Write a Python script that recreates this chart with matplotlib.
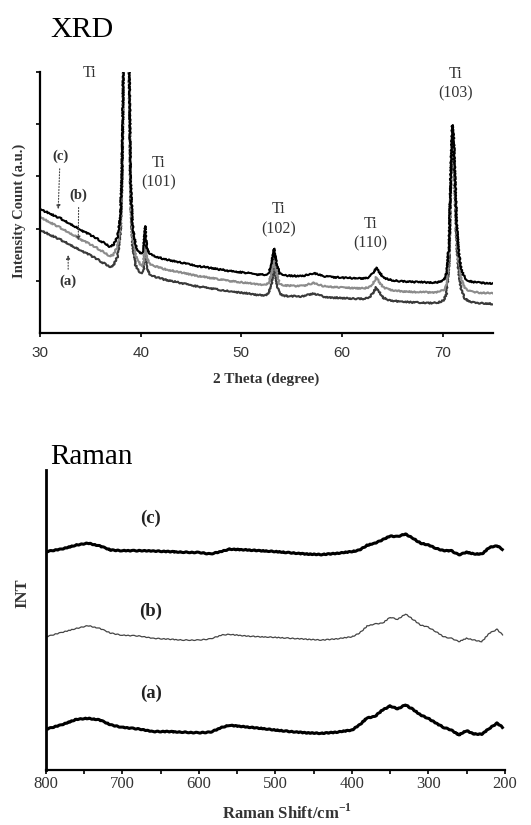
import matplotlib
matplotlib.use('Agg')
import matplotlib.pyplot as plt

plt.rcParams['mathtext.fontset'] = 'custom'
plt.rcParams['mathtext.rm'] = 'Liberation Serif'
plt.rcParams['mathtext.bf'] = 'Liberation Serif:bold'

# XRD data (2 theta, intensity in arbitrary units)
xrd_x = [30.0, 30.5, 31.0, 31.5, 32.0, 32.5, 33.0, 33.5, 34.0, 34.5,
         35.0, 35.5, 36.0, 36.5, 36.9, 37.3, 37.7, 38.0, 38.15, 38.3,
         38.45, 38.7, 38.85, 39.0, 39.2, 39.5, 39.8, 40.1, 40.3, 40.45,
         40.6, 40.9, 41.3, 41.8, 42.3, 42.8, 43.3, 43.8, 44.3, 44.8,
         45.3, 45.8, 46.3, 46.8, 47.3, 47.8, 48.3, 48.8, 49.3, 49.8,
         50.3, 50.8, 51.3, 51.8, 52.3, 52.7, 53.0, 53.25, 53.5, 53.8,
         54.2, 54.7, 55.2, 55.7, 56.2, 56.7, 57.2, 57.7, 58.2, 58.7,
         59.2, 59.7, 60.2, 60.7, 61.2, 61.7, 62.2, 62.7, 63.1, 63.4,
         63.7, 64.1, 64.6, 65.1, 65.6, 66.1, 66.6, 67.1, 67.6, 68.1,
         68.6, 69.1, 69.6, 70.1, 70.4, 70.65, 70.8, 70.96, 71.1, 71.25,
         71.4, 71.6, 71.85, 72.2, 72.6, 73.1, 73.6, 74.1, 74.6, 75.0]

xrd_c = [2.39, 2.33, 2.29, 2.24, 2.20, 2.15, 2.09, 2.04, 1.97, 1.93,
         1.88, 1.83, 1.77, 1.71, 1.66, 1.69, 1.84, 2.25, 3.1, 5.4,
         9.0, 9.0, 5.4, 2.9, 2.05, 1.68, 1.56, 1.52, 1.62, 2.05,
         1.63, 1.52, 1.48, 1.45, 1.42, 1.40, 1.38, 1.36, 1.34, 1.32,
         1.30, 1.28, 1.27, 1.25, 1.24, 1.22, 1.21, 1.19, 1.18, 1.17,
         1.16, 1.15, 1.13, 1.12, 1.12, 1.14, 1.32, 1.62, 1.34, 1.14,
         1.11, 1.10, 1.10, 1.09, 1.10, 1.13, 1.15, 1.12, 1.09, 1.08,
         1.07, 1.07, 1.06, 1.06, 1.05, 1.05, 1.05, 1.07, 1.15, 1.26,
         1.17, 1.07, 1.03, 1.01, 1.00, 0.99, 0.99, 0.98, 0.98, 0.98,
         0.97, 0.97, 0.98, 1.02, 1.15, 1.75, 3.0, 3.98, 3.75, 2.9,
         2.1, 1.55, 1.22, 1.06, 1.00, 0.98, 0.97, 0.96, 0.96, 0.95]

xrd_b = [2.24, 2.17, 2.12, 2.07, 2.02, 1.97, 1.91, 1.86, 1.79, 1.75,
         1.70, 1.65, 1.59, 1.53, 1.48, 1.50, 1.66, 2.10, 3.0, 5.3,
         9.0, 9.0, 5.3, 2.7, 1.86, 1.49, 1.37, 1.28, 1.36, 1.85,
         1.44, 1.33, 1.29, 1.26, 1.23, 1.21, 1.19, 1.17, 1.15, 1.13,
         1.11, 1.09, 1.08, 1.06, 1.05, 1.03, 1.02, 1.00, 0.99, 0.98,
         0.97, 0.96, 0.94, 0.93, 0.93, 0.95, 1.13, 1.45, 1.15, 0.95,
         0.92, 0.91, 0.91, 0.90, 0.91, 0.94, 0.96, 0.93, 0.90, 0.89,
         0.88, 0.88, 0.87, 0.87, 0.86, 0.86, 0.86, 0.88, 0.96, 1.07,
         0.98, 0.88, 0.84, 0.82, 0.81, 0.80, 0.80, 0.79, 0.79, 0.79,
         0.78, 0.78, 0.79, 0.83, 0.96, 1.56, 2.85, 3.85, 3.6, 2.75,
         1.92, 1.36, 1.03, 0.87, 0.81, 0.79, 0.78, 0.77, 0.77, 0.76]

xrd_a = [1.98, 1.93, 1.88, 1.84, 1.79, 1.75, 1.69, 1.64, 1.58, 1.54,
         1.49, 1.44, 1.38, 1.32, 1.27, 1.30, 1.46, 1.95, 2.9, 5.2,
         9.0, 9.0, 5.2, 2.55, 1.66, 1.30, 1.20, 1.14, 1.18, 1.70,
         1.25, 1.13, 1.09, 1.06, 1.03, 1.01, 0.99, 0.97, 0.95, 0.93,
         0.91, 0.89, 0.88, 0.86, 0.85, 0.83, 0.82, 0.80, 0.79, 0.78,
         0.77, 0.76, 0.74, 0.73, 0.73, 0.75, 0.93, 1.28, 0.95, 0.75,
         0.72, 0.71, 0.71, 0.70, 0.71, 0.74, 0.76, 0.73, 0.70, 0.69,
         0.68, 0.68, 0.67, 0.67, 0.66, 0.66, 0.66, 0.68, 0.77, 0.88,
         0.79, 0.68, 0.64, 0.62, 0.61, 0.60, 0.60, 0.59, 0.59, 0.59,
         0.58, 0.58, 0.59, 0.63, 0.76, 1.36, 2.7, 3.75, 3.5, 2.6,
         1.72, 1.16, 0.83, 0.67, 0.61, 0.59, 0.58, 0.57, 0.57, 0.56]

xrd_ticks = [30, 40, 50, 60, 70]

# peak labels: text, x, y
peak_labels = ['Ti', 'Ti\n(101)', 'Ti\n(102)', 'Ti\n(110)', 'Ti\n(103)']
peak_x = [34.9, 41.75, 53.7, 62.8, 71.3]
peak_y = [4.98, 3.07, 2.18, 1.90, 4.77]

# Raman data (shift in cm-1, intensity)
raman_x = [800, 780, 760, 745, 730, 715, 700, 680, 660, 640,
           620, 600, 585, 570, 560, 540, 520, 500, 480, 460,
           440, 420, 400, 390, 380, 370, 360, 350, 340, 330,
           320, 310, 300, 290, 280, 270, 260, 250, 240, 230,
           220, 210, 203]

raman_c = [7.28, 7.36, 7.50, 7.56, 7.47, 7.33, 7.31, 7.31, 7.30, 7.28,
           7.26, 7.25, 7.20, 7.29, 7.36, 7.34, 7.31, 7.28, 7.24, 7.20,
           7.18, 7.22, 7.28, 7.33, 7.49, 7.56, 7.67, 7.80, 7.78, 7.87,
           7.72, 7.56, 7.50, 7.39, 7.31, 7.31, 7.17, 7.26, 7.20, 7.20,
           7.42, 7.47, 7.36]

raman_b = [4.44, 4.58, 4.72, 4.81, 4.72, 4.56, 4.49, 4.47, 4.39, 4.36,
           4.33, 4.33, 4.37, 4.50, 4.52, 4.47, 4.44, 4.42, 4.39, 4.36,
           4.33, 4.37, 4.44, 4.56, 4.80, 4.87, 4.89, 5.09, 5.02, 5.20,
           5.02, 4.83, 4.76, 4.61, 4.44, 4.39, 4.28, 4.39, 4.33, 4.28,
           4.56, 4.69, 4.50]

raman_a = [1.36, 1.50, 1.69, 1.72, 1.67, 1.50, 1.42, 1.37, 1.28, 1.28,
           1.26, 1.24, 1.26, 1.42, 1.49, 1.44, 1.39, 1.33, 1.28, 1.24,
           1.22, 1.26, 1.33, 1.50, 1.74, 1.78, 2.00, 2.13, 2.04, 2.17,
           2.02, 1.83, 1.72, 1.56, 1.42, 1.33, 1.17, 1.31, 1.20, 1.19,
           1.39, 1.56, 1.42]

raman_ticks = [800, 700, 600, 500, 400, 300, 200]

serif = ['Liberation Serif', 'DejaVu Serif']
sans = ['Liberation Sans', 'DejaVu Sans']

fig = plt.figure(figsize=(5.31, 8.25), dpi=100)

# ---------- XRD ----------
ax1 = fig.add_axes([0.0753, 0.596, 0.853, 0.317])
for ys, col in [(xrd_a, '#3a3a3a'), (xrd_b, '#8c8c8c'), (xrd_c, '#000000')]:
    ln, = ax1.plot(xrd_x, ys, color=col, lw=1.5)
    ln.set_sketch_params(scale=0.7, length=2.0, randomness=3.0)

ax1.set_xlim(30, 75)
ax1.set_ylim(0, 5)
ax1.set_xticks(xrd_ticks)
ax1.set_yticks([1, 2, 3, 4, 5])
ax1.set_yticklabels([])
for s in ['top', 'right']:
    ax1.spines[s].set_visible(False)
for s in ['left', 'bottom']:
    ax1.spines[s].set_linewidth(1.6)
ax1.tick_params(axis='both', direction='out', length=3, width=1.2,
                labelsize=11, labelcolor='#333333')
ax1.tick_params(axis='x', pad=6)
for lab in ax1.get_xticklabels():
    lab.set_family(sans)
ax1.set_xlabel('2 Theta (degree)', family=serif, fontweight='bold',
               fontsize=11, color='#333333')
ax1.xaxis.set_label_coords(0.5, -0.15)
ax1.set_ylabel('Intensity Count (a.u.)', family=serif, fontweight='bold',
               fontsize=10.5, color='#333333')
ax1.yaxis.set_label_coords(-0.030, 0.47)

for t, x, y in zip(peak_labels, peak_x, peak_y):
    ax1.text(x, y, t, family=serif, fontsize=11.5, color='#333333',
             ha='center', va='center', linespacing=1.3)

# series labels with dotted arrows
arrow_kw = dict(arrowstyle='-|>', linestyle=':', color='#444444', lw=0.8,
                mutation_scale=6)
ax1.annotate('(c)', xy=(31.8, 2.32), xytext=(32.0, 3.38), ha='center',
             va='center', family=serif, fontweight='bold', fontsize=10.5,
             color='#333333', arrowprops=arrow_kw)
ax1.annotate('(b)', xy=(33.8, 1.72), xytext=(33.85, 2.64), ha='center',
             va='center', family=serif, fontweight='bold', fontsize=10.5,
             color='#333333', arrowprops=arrow_kw)
ax1.annotate('(a)', xy=(32.8, 1.55), xytext=(32.8, 0.99), ha='center',
             va='center', family=serif, fontweight='bold', fontsize=10.5,
             color='#333333', arrowprops=arrow_kw)

fig.text(0.094, 0.955, 'XRD', family=serif, fontsize=21.5, va='baseline')

# ---------- Raman ----------
ax2 = fig.add_axes([0.0866, 0.0667, 0.864, 0.3636])
for ys, col, w in [(raman_c, 'black', 2.2), (raman_b, '#444444', 0.9),
                   (raman_a, 'black', 2.2)]:
    ln, = ax2.plot(raman_x, ys, color=col, lw=w)
    ln.set_sketch_params(scale=0.4, length=5.0, randomness=2.0)
ax2.set_xlim(800, 200)
ax2.set_ylim(0, 10)
ax2.set_xticks(raman_ticks)
ax2.set_xticks([750, 650, 550, 450, 350, 250], minor=True)
ax2.set_yticks([])
for s in ['top', 'right']:
    ax2.spines[s].set_visible(False)
ax2.spines['left'].set_linewidth(2.0)
ax2.spines['bottom'].set_linewidth(1.6)
ax2.tick_params(axis='x', which='both', direction='out', length=3, width=1.2,
                labelsize=12, labelcolor='#333333', pad=1)
for lab in ax2.get_xticklabels():
    lab.set_family(serif)
ax2.set_xlabel('Raman Shift/cm$^{\\mathbf{-1}}$', family=serif, fontweight='bold',
               fontsize=12, color='#333333')
ax2.xaxis.set_label_coords(0.525, -0.112)
ax2.set_ylabel('INT', family=serif, fontweight='bold', fontsize=12,
               color='#333333')
ax2.yaxis.set_label_coords(-0.035, 0.59)

for t, y in [('(c)', 8.39), ('(b)', 5.28), ('(a)', 2.56)]:
    ax2.text(663, y, t, family=serif, fontweight='bold', fontsize=13.5,
             color='#222222', ha='center', va='center')

fig.text(0.094, 0.4376, 'Raman', family=serif, fontsize=21, va='baseline')

fig.savefig('out.png', dpi=100)
